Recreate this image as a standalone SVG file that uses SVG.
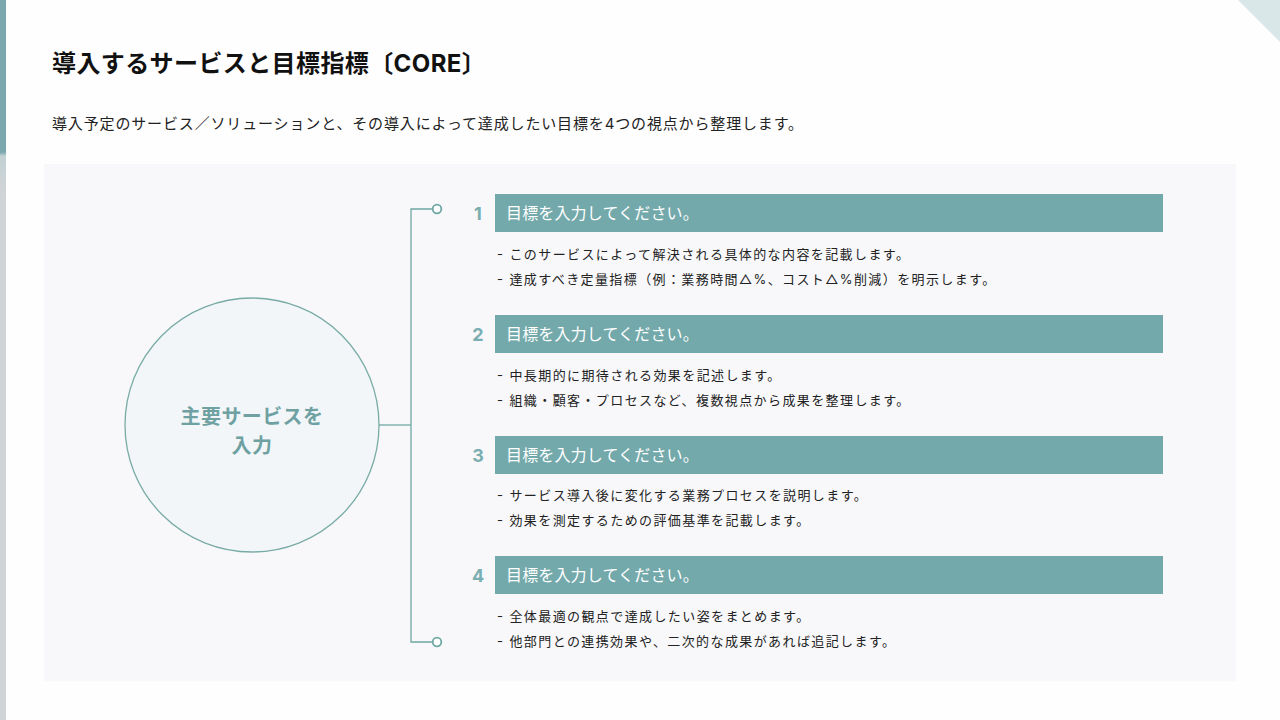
<svg xmlns="http://www.w3.org/2000/svg" width="1280" height="720" viewBox="0 0 1280 720">
<defs>
<style>
.jp{font-family:"Inter","Noto Sans CJK JP","Noto Sans",sans-serif;}
.title{font-size:24px;font-weight:700;fill:#111;letter-spacing:0.4px;}
.sub{font-size:15px;fill:#222;letter-spacing:0.85px;}
.hdr{fill:#73a9ab;}
.htxt{font-size:16px;fill:#fff;letter-spacing:0.15px;}
.num{font-family:"Inter","Noto Sans",sans-serif;font-size:18px;font-weight:700;fill:#7aaeb0;text-anchor:middle;}
.bul{font-size:13px;fill:#222;letter-spacing:1.4px;}
.con{stroke:#6fa7a3;stroke-width:1.3;fill:none;}
.dot{stroke:#6fa7a3;stroke-width:1.8;fill:#fff;}
</style>
<linearGradient id="lb" x1="0" y1="0" x2="0" y2="1">
<stop offset="0" stop-color="#7aa8ae"/>
<stop offset="0.78" stop-color="#7aa8ae"/>
<stop offset="0.8" stop-color="#c2d1d3"/>
<stop offset="1" stop-color="#d1d4d7"/>
</linearGradient>
</defs>
<rect width="1280" height="720" fill="#fefefe"/>
<rect x="0" y="0" width="6" height="720" fill="#d1d4d7"/>
<rect x="0" y="0" width="6" height="195" fill="url(#lb)"/>
<polygon points="1238,0 1280,0 1280,42" fill="#d9e7e9"/>
<text class="jp title" x="52" y="72">導入するサービスと目標指標〔CORE〕</text>
<text class="jp sub" x="52" y="129">導入予定のサービス／ソリューションと、その導入によって達成したい目標を4つの視点から整理します。</text>
<rect x="44" y="164" width="1192" height="517" fill="#f8f8fa"/>
<g id="connectors">
<line class="con" x1="379" y1="425" x2="411" y2="425"/>
<path class="con" d="M437,209 H411 V642 H437"/>
<circle class="dot" cx="437" cy="209" r="4.3"/>
<circle class="dot" cx="437" cy="642" r="4.3"/>
</g>
<g id="center">
<circle cx="252" cy="425" r="127" fill="#f2f6f8" stroke="#79aba6" stroke-width="1.3"/>
<text class="jp" x="252" y="424" font-size="20" font-weight="700" fill="#6fa1a2" text-anchor="middle" letter-spacing="0.4">主要サービスを</text>
<text class="jp" x="252" y="453" font-size="20" font-weight="700" fill="#6fa1a2" text-anchor="middle" letter-spacing="0.4">入力</text>
</g>
<g id="goal1">
<text class="num" x="478" y="220">1</text>
<rect class="hdr" x="495" y="194" width="668" height="38"/>
<text class="jp htxt" x="506" y="219">目標を入力してください。</text>
<text class="jp bul" x="497" y="259">- このサービスによって解決される具体的な内容を記載します。</text>
<text class="jp bul" x="497" y="284">- 達成すべき定量指標（例：業務時間△%、コスト△%削減）を明示します。</text>
</g>
<g id="goal2">
<text class="num" x="478" y="341">2</text>
<rect class="hdr" x="495" y="315" width="668" height="38"/>
<text class="jp htxt" x="506" y="340">目標を入力してください。</text>
<text class="jp bul" x="497" y="380">- 中長期的に期待される効果を記述します。</text>
<text class="jp bul" x="497" y="405">- 組織・顧客・プロセスなど、複数視点から成果を整理します。</text>
</g>
<g id="goal3">
<text class="num" x="478" y="462">3</text>
<rect class="hdr" x="495" y="436" width="668" height="38"/>
<text class="jp htxt" x="506" y="461">目標を入力してください。</text>
<text class="jp bul" x="497" y="500">- サービス導入後に変化する業務プロセスを説明します。</text>
<text class="jp bul" x="497" y="525">- 効果を測定するための評価基準を記載します。</text>
</g>
<g id="goal4">
<text class="num" x="478" y="582">4</text>
<rect class="hdr" x="495" y="556" width="668" height="38"/>
<text class="jp htxt" x="506" y="581">目標を入力してください。</text>
<text class="jp bul" x="497" y="621">- 全体最適の観点で達成したい姿をまとめます。</text>
<text class="jp bul" x="497" y="646">- 他部門との連携効果や、二次的な成果があれば追記します。</text>
</g>
</svg>
